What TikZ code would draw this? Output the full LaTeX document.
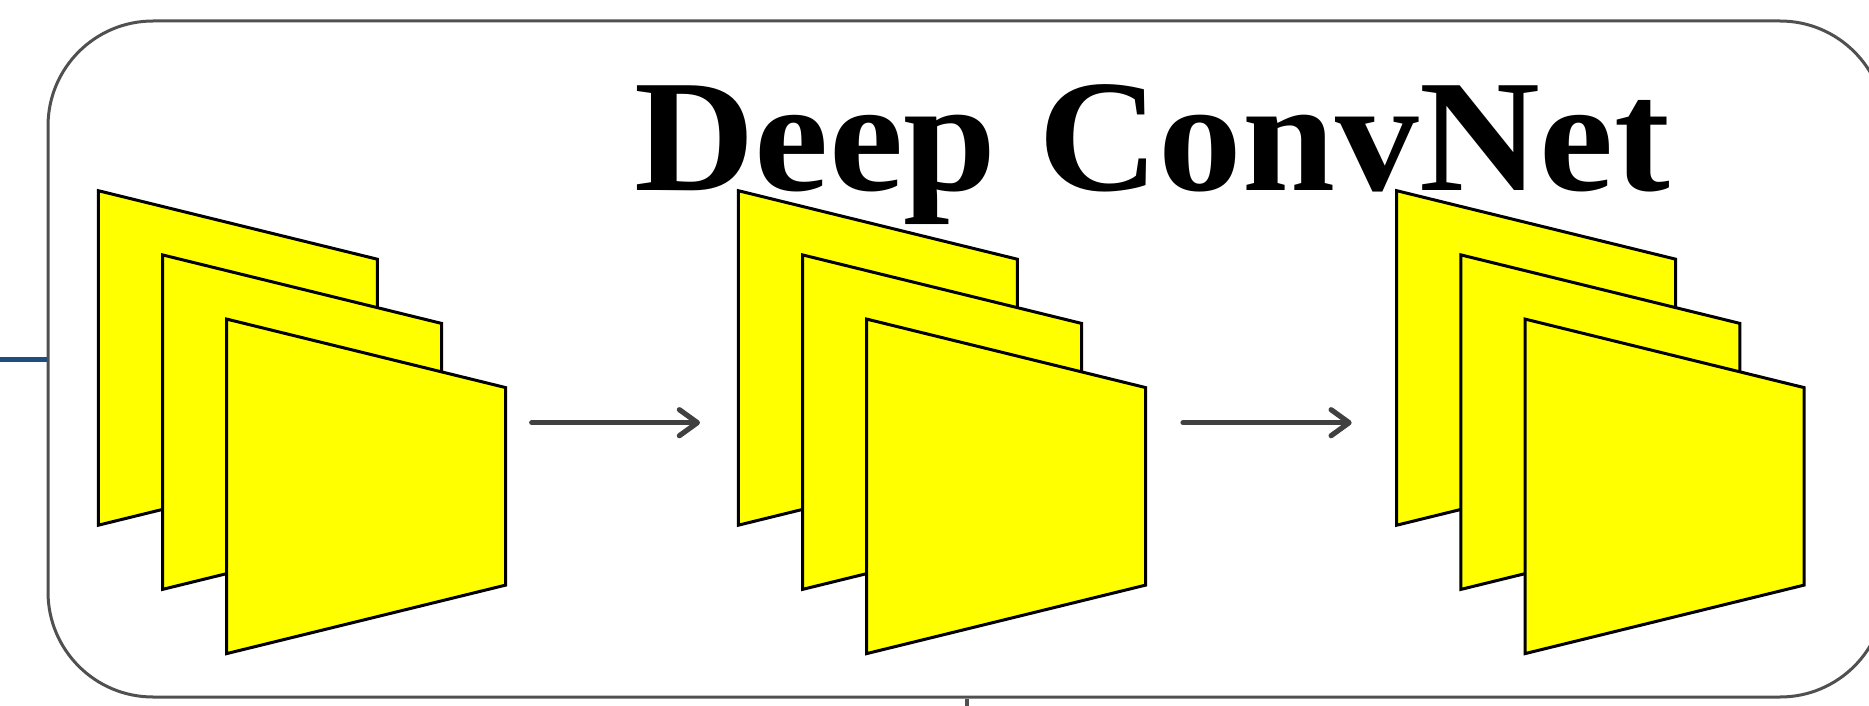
\documentclass[tikz,border=0pt]{standalone}
\usepackage{fontspec}
\setmainfont{Liberation Serif}
\usepackage{tikz}
\usetikzlibrary{positioning,arrows.meta}
\usepackage{xcolor}
\definecolor{boxgray}{RGB}{80,80,80}
\definecolor{arrgray}{RGB}{64,64,64}
\definecolor{feedblue}{RGB}{30,78,128}
\definecolor{mapyellow}{RGB}{255,255,0}

\begin{document}
\begin{tikzpicture}[x=0.5pt,y=-0.5pt,
    netbox/.style={draw=boxgray,line width=1.5pt,rounded corners=52.5pt,
      minimum width=918.5pt,minimum height=338pt,inner sep=0pt},
    fmap/.style={draw=black,fill=mapyellow,line width=1.5pt,line join=miter},
    flow/.style={draw=arrgray,line width=2.6pt,line cap=round,
      -{Straight Barb[length=9pt,width=13pt,round]}},
    title/.style={font=\bfseries\fontsize{80}{90}\selectfont,inner sep=0pt,xscale=1.045}]
      \useasboundingbox (0,0) rectangle (1869,706);
      \clip (0,0) rectangle (1869,706);
      % Outer box with its links
      \node[netbox] (convnet) at (966.5,359) {};
      \coordinate (feedin) at (0,359);
      \coordinate (feedout) at (966.5,720);
      \draw[feedblue,line width=2.5pt] (feedin) -- (convnet.west);
      \draw[boxgray,line width=2pt] (convnet.south) -- (feedout);
      % Title
      \node[title,anchor=base] (name) at (1152,191) {Deep ConvNet};
      % Feature maps
      \foreach \gx in {0,640,1298.4} {
        \foreach \k in {0,1,2} {
          \draw[fmap] ({98.3+\gx+64.2*\k},{190.7+64.2*\k}) -- ++(279,68.5)
            -- ++(0,197.5) -- ++(-279,68.5) -- cycle;
        }
      }
      % Arrows between layers
      \coordinate (l1out) at (531.7,422.7);
      \coordinate (l2in) at (700,422.7);
      \coordinate (l2out) at (1183,422.7);
      \coordinate (l3in) at (1351.7,422.7);
      \draw[flow] (l1out) -- (l2in);
      \draw[flow] (l2out) -- (l3in);
\end{tikzpicture}
\end{document}
